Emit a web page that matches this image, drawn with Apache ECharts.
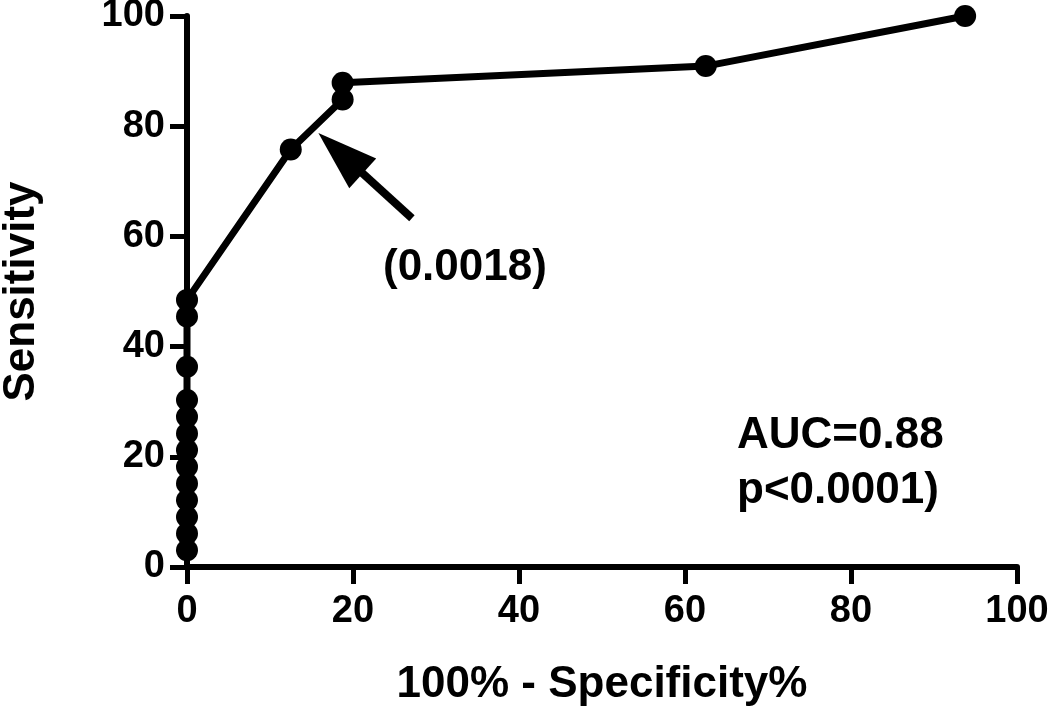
<!DOCTYPE html>
<html><head><meta charset="utf-8">
<script src="https://cdn.jsdelivr.net/npm/echarts@6/dist/echarts.min.js"></script>
<style>html,body{margin:0;padding:0;background:#fff}#c{width:1050px;height:709px}</style>
</head><body><div id="c"></div>
<script>
const fpr = [0,0,0,0,0,0,0,0,0,0,0,0,0,12.5,18.75,18.75,62.5,93.75];
const sens = [3.03,6.06,9.09,12.12,15.15,18.18,21.21,24.24,27.27,30.30,36.36,45.45,48.48,75.76,84.85,87.88,90.91,100];
const xTicks = [0,20,40,60,80,100];
const yTicks = [0,20,40,60,80,100];
const xTitle = '100% - Specificity%';
const yTitle = 'Sensitivity';
const cutoffLabel = '(0.0018)';
const aucText = 'AUC=0.88';
const pText = 'p<0.0001)';
const arrowFrom = [27.1, 63.3];
const arrowTo = [18.5, 75.1];

const font = 'Liberation Sans, Arial, sans-serif';
const chart = echarts.init(document.getElementById('c'));
chart.setOption({
  animation:false,
  backgroundColor:'#fff',
  grid:{left:187,right:33,top:16,bottom:142,outerBoundsMode:'none',containLabel:false},
  xAxis:{type:'value',min:xTicks[0],max:xTicks[xTicks.length-1],interval:20,
    axisLine:{show:true,onZero:false,lineStyle:{color:'#000',width:6}},
    axisTick:{show:true,length:17,lineStyle:{color:'#000',width:5}},
    axisLabel:{color:'#000',fontSize:38,fontWeight:'bold',fontFamily:font,margin:26},
    splitLine:{show:false},
    name:xTitle,nameLocation:'middle',nameGap:96,
    nameTextStyle:{color:'#000',fontSize:44,fontWeight:'bold',fontFamily:font}},
  yAxis:{type:'value',min:yTicks[0],max:yTicks[yTicks.length-1],interval:20,
    axisLine:{show:true,onZero:false,lineStyle:{color:'#000',width:6}},
    axisTick:{show:true,length:17,lineStyle:{color:'#000',width:5}},
    axisLabel:{color:'#000',fontSize:38,fontWeight:'bold',fontFamily:font,margin:22},
    splitLine:{show:false},
    name:yTitle,nameLocation:'middle',nameGap:165,
    nameTextStyle:{color:'#000',fontSize:44,fontWeight:'bold',fontFamily:font,verticalAlign:'middle'}},
  series:[{
    type:'line',
    data:fpr.map((x,i)=>[x,sens[i]]),
    symbol:'circle',symbolSize:22,
    itemStyle:{color:'#000'},
    lineStyle:{color:'#000',width:7},
    z:3,
    markLine:{silent:true,symbol:['none','triangle'],symbolSize:[40,60],
      lineStyle:{color:'#000',width:8,type:'solid'},label:{show:false},
      data:[[{coord:arrowFrom},{coord:arrowTo}]]}
  }],
  graphic:[
    {type:'text',left:383,top:246,style:{text:cutoffLabel,fill:'#000',font:'bold 44px '+font}},
    {type:'text',left:737,top:414,style:{text:aucText,fill:'#000',font:'bold 44px '+font}},
    {type:'text',left:737,top:469,style:{text:pText,fill:'#000',font:'bold 44px '+font}}
  ]
});
</script></body></html>
